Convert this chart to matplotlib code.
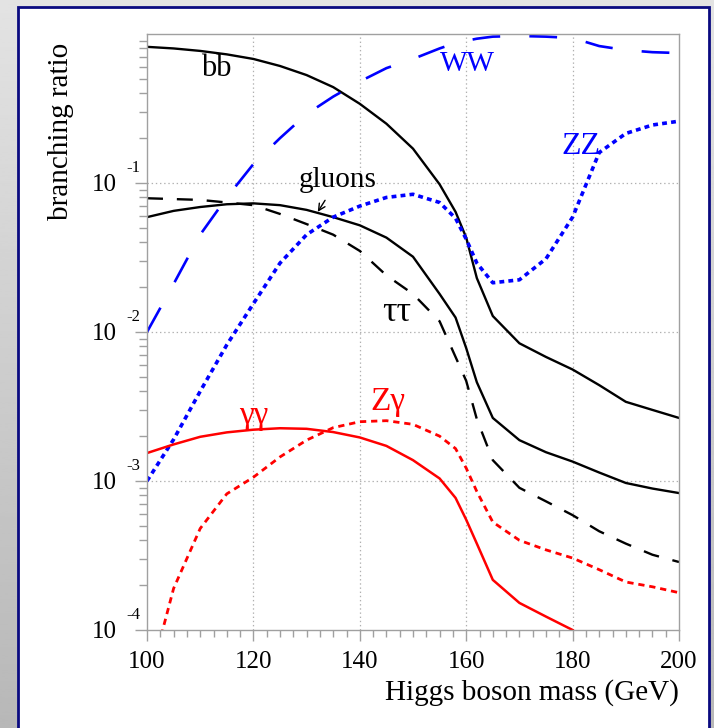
import numpy as np
import matplotlib
matplotlib.use("Agg")
import matplotlib.pyplot as plt
from matplotlib.patches import Rectangle

plt.rcParams['font.family'] = ['Liberation Serif', 'DejaVu Serif']
plt.rcParams['lines.scale_dashes'] = False

# Higgs mass points (GeV)
mass = [100, 105, 110, 115, 120, 125, 130, 135, 140, 145, 150, 155, 158,
        160, 162, 165, 170, 175, 180, 185, 190, 195, 200]
mass_gg = mass[:19]

br_bb = [0.82, 0.80, 0.77, 0.73, 0.68, 0.61, 0.53, 0.44, 0.34, 0.25, 0.17,
         0.098, 0.064, 0.043, 0.023, 0.0128, 0.0084, 0.0068, 0.0056, 0.0044,
         0.0034, 0.0030, 0.00265]
br_ww = [0.010, 0.021, 0.045, 0.080, 0.134, 0.20, 0.29, 0.38, 0.48, 0.59,
         0.68, 0.80, 0.87, 0.90, 0.93, 0.96, 0.97, 0.96, 0.94, 0.83, 0.78,
         0.755, 0.745]
br_zz = [0.00100, 0.0019, 0.0040, 0.0082, 0.0155, 0.029, 0.045, 0.059, 0.070,
         0.080, 0.084, 0.074, 0.058, 0.042, 0.029, 0.0214, 0.0224, 0.031,
         0.059, 0.16, 0.215, 0.245, 0.26]
br_gluons = [0.059, 0.065, 0.069, 0.072, 0.073, 0.071, 0.066, 0.059, 0.052,
             0.043, 0.032, 0.018, 0.0125, 0.0078, 0.0046, 0.00265, 0.00188,
             0.00156, 0.00135, 0.00114, 0.00097, 0.00089, 0.00083]
br_tautau = [0.079, 0.078, 0.077, 0.074, 0.071, 0.062, 0.053, 0.045, 0.035,
             0.024, 0.018, 0.0118, 0.0068, 0.0047, 0.0026, 0.00138, 0.00090,
             0.00073, 0.00059, 0.00046, 0.00038, 0.00032, 0.000286]
br_gamgam = [0.00154, 0.00176, 0.00198, 0.00212, 0.00221, 0.00226, 0.00224,
             0.00213, 0.00196, 0.00172, 0.00138, 0.00104, 0.00077, 0.00055,
             0.00038, 0.000217, 0.000152, 0.000123, 0.000100]
br_zgam = [0.00004, 0.00019, 0.00048, 0.00082, 0.00106, 0.00145, 0.00188,
           0.00228, 0.00250, 0.00254, 0.00240, 0.00200, 0.00165, 0.00122,
           0.00085, 0.00053, 0.00040, 0.000345, 0.000304, 0.000254, 0.00021,
           0.000195, 0.000178]

W, H = 714, 728
fig = plt.figure(figsize=(W / 100, H / 100), dpi=100)

# grey gradient backdrop and white framed panel
bg = fig.add_axes([0, 0, 1, 1], zorder=-3)
grad = np.linspace(0.89, 0.72, 256).reshape(-1, 1)
bg.imshow(grad, aspect='auto', cmap='gray', vmin=0, vmax=1, extent=(0, 1, 0, 1))
bg.axis('off')
fig.add_artist(Rectangle((18 / W, -0.01), (709 - 18) / W, 1.01 - 7 / H,
                         transform=fig.transFigure, facecolor='white',
                         edgecolor='#0a0a80', lw=2.0, zorder=-2))

ax = fig.add_axes([147 / W, 1 - 630 / H, (679 - 147) / W, (630 - 34) / H])
ax.patch.set_alpha(0)

ax.plot(mass, br_bb, color='black', lw=1.7)
ax.plot(mass, br_gluons, color='black', lw=1.7)
ax.plot(mass, br_tautau, color='black', lw=1.7, dashes=(11.5, 10))
ax.plot(mass, br_ww, color='blue', lw=1.9, dashes=(20, 21))
ax.plot(mass, br_zz, color='blue', lw=2.6, dashes=(3.5, 3.0))
ax.plot(mass_gg, br_gamgam, color='red', lw=1.8)
ax.plot(mass, br_zgam, color='red', lw=2.0, dashes=(4.5, 3.5))

ax.set_yscale('log')
ax.set_xlim(100, 200)
ax.set_ylim(1e-4, 1.0)

for s in ax.spines.values():
    s.set_color('#a0a0a0')
    s.set_linewidth(1.0)

ax.set_xticks([100, 120, 140, 160, 180, 200])
ax.set_xticks(np.arange(100, 200.1, 2.5), minor=True)
ax.set_yticks([1e-4, 1e-3, 1e-2, 1e-1])
ax.set_yticklabels([])
ax.tick_params(axis='both', which='both', direction='out', color='#a0a0a0')
ax.tick_params(axis='x', which='major', length=8, width=1, labelsize=18, pad=7)
ax.tick_params(axis='x', which='minor', length=5, width=1)
ax.tick_params(axis='y', which='major', length=9, width=1)
ax.tick_params(axis='y', which='minor', length=6, width=1)
ax.tick_params(axis='y', which='minor', labelleft=False)

for x in [120, 140, 160, 180]:
    ax.axvline(x, color='#b0b0b0', lw=0.9, ls=(0, (1, 2)), zorder=0)
for e in [-1, -2, -3]:
    ax.axhline(10.0 ** e, color='#b0b0b0', lw=0.9, ls=(0, (1, 2)), zorder=0)

# y tick labels written as 10 with a raised exponent
for e in [-1, -2, -3, -4]:
    ax.annotate('10', xy=(0, 10.0 ** e), xycoords=('axes fraction', 'data'),
                xytext=(-30, -8), textcoords='offset pixels',
                ha='right', va='baseline', fontsize=18)
    ax.annotate(str(e), xy=(0, 10.0 ** e), xycoords=('axes fraction', 'data'),
                xytext=(-21, 11), textcoords='offset pixels',
                ha='left', va='baseline', fontsize=12)

fig.text(679 / W, 1 - 700 / H, 'Higgs boson mass (GeV)', ha='right',
         va='baseline', fontsize=21)
fig.text(61 / W, 1 - 43 / H, 'branching ratio', rotation=90, ha='center',
         va='top', fontsize=21)

# curve labels
ax.text(113.0, 0.59, 'bb', fontsize=22, ha='center', va='center')
ax.text(160.2, 0.63, 'WW', fontsize=21, color='blue', ha='center', va='center')
ax.text(181.6, 0.177, 'ZZ', fontsize=23, color='blue', ha='center', va='center')
ax.text(147.0, 0.0136, 'ττ', fontsize=26, ha='center', va='center')
ax.text(120.1, 0.00273, 'γγ', fontsize=24, color='red', ha='center', va='center')
ax.text(145.3, 0.00339, 'Zγ', fontsize=24, color='red', ha='center', va='center')
ax.annotate('gluons', xy=(132.1, 0.064), xytext=(135.9, 0.105),
            fontsize=21, ha='center', va='center',
            arrowprops=dict(arrowstyle='->', color='black', lw=1.0,
                            shrinkA=4, shrinkB=0, mutation_scale=12))

fig.savefig('out.png', dpi=100)
